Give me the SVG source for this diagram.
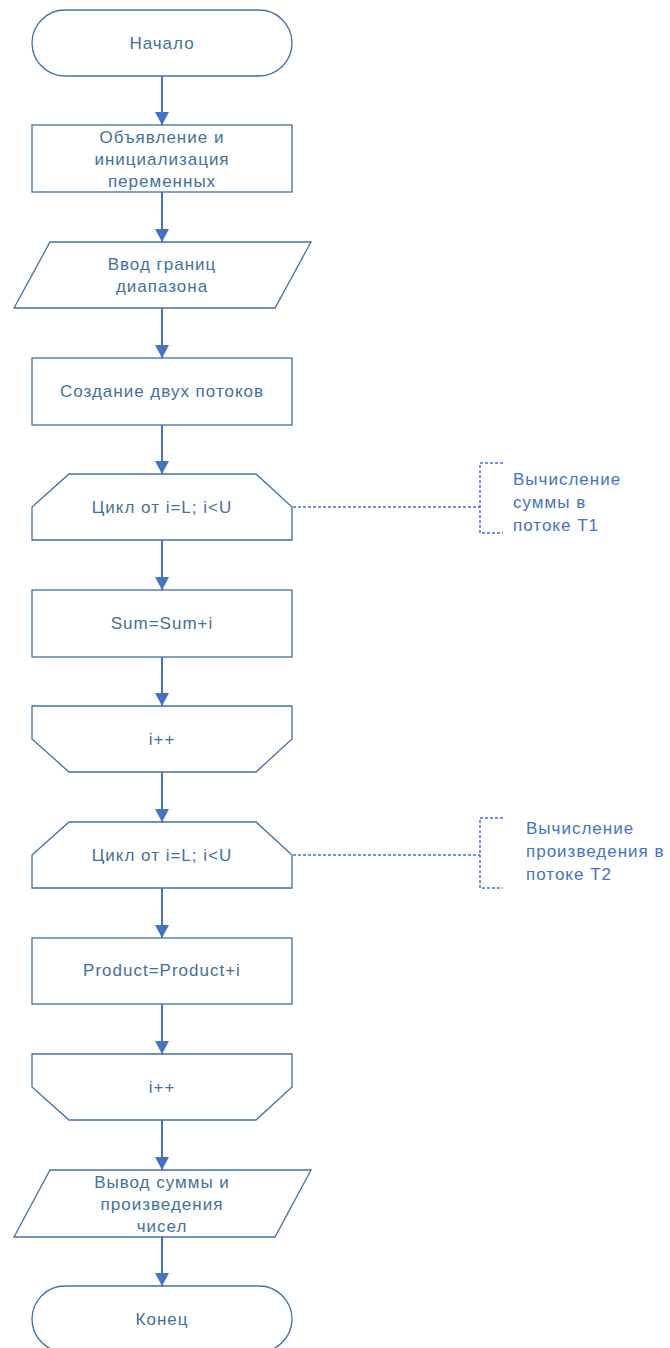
<svg xmlns="http://www.w3.org/2000/svg" width="670" height="1348" viewBox="0 0 670 1348">
<defs>
<style>
.shape{fill:#ffffff;stroke:#41719C;stroke-width:1.3}
.t{font-family:"Liberation Sans",Arial,sans-serif;font-size:17px;fill:#41719C;text-anchor:middle;letter-spacing:1px}
.a{font-family:"Liberation Sans",Arial,sans-serif;font-size:17px;fill:#4472C4;letter-spacing:1px}
.conn{stroke:#4472C4;stroke-width:2;fill:none}
.dash{stroke:#4472C4;stroke-width:1.5;fill:none;stroke-dasharray:3 2}
</style>
<marker id="arr" markerUnits="userSpaceOnUse" markerWidth="14" markerHeight="14" refX="13" refY="7" orient="auto">
<path d="M0,0 L13,7 L0,14 z" fill="#4472C4"/>
</marker>
</defs>
<rect x="0" y="0" width="670" height="1348" fill="#ffffff"/>

<g id="connectors">
<line class="conn" x1="162" y1="76" x2="162" y2="125" marker-end="url(#arr)"/>
<line class="conn" x1="162" y1="192" x2="162" y2="242" marker-end="url(#arr)"/>
<line class="conn" x1="162" y1="308" x2="162" y2="358" marker-end="url(#arr)"/>
<line class="conn" x1="162" y1="425" x2="162" y2="474" marker-end="url(#arr)"/>
<line class="conn" x1="162" y1="540" x2="162" y2="590" marker-end="url(#arr)"/>
<line class="conn" x1="162" y1="657" x2="162" y2="706" marker-end="url(#arr)"/>
<line class="conn" x1="162" y1="772" x2="162" y2="822" marker-end="url(#arr)"/>
<line class="conn" x1="162" y1="888" x2="162" y2="938" marker-end="url(#arr)"/>
<line class="conn" x1="162" y1="1004" x2="162" y2="1054" marker-end="url(#arr)"/>
<line class="conn" x1="162" y1="1120" x2="162" y2="1170" marker-end="url(#arr)"/>
<line class="conn" x1="162" y1="1237" x2="162" y2="1286" marker-end="url(#arr)"/>
<line class="dash" x1="293" y1="507" x2="480" y2="507"/>
<line class="dash" x1="293" y1="855" x2="480" y2="855"/>
</g>

<g id="start">
<rect class="shape" x="32" y="10" width="260" height="66" rx="33" ry="33"/>
<text class="t" x="162" y="49">Начало</text>
</g>

<g id="declare">
<rect class="shape" x="32" y="125" width="260" height="67"/>
<text class="t" x="162" y="143">Объявление и</text>
<text class="t" x="162" y="165">инициализация</text>
<text class="t" x="162" y="187">переменных</text>
</g>

<g id="input">
<polygon class="shape" points="50,242 311,242 275,308 14,308"/>
<text class="t" x="162" y="270">Ввод границ</text>
<text class="t" x="162" y="292">диапазона</text>
</g>

<g id="threads">
<rect class="shape" x="32" y="358" width="260" height="67"/>
<text class="t" x="162" y="397">Создание двух потоков</text>
</g>

<g id="loop1">
<polygon class="shape" points="69,474 256,474 292,507 292,540 32,540 32,507"/>
<text class="t" x="162" y="513">Цикл от i=L; i&lt;U</text>
</g>

<g id="sum">
<rect class="shape" x="32" y="590" width="260" height="67"/>
<text class="t" x="162" y="629">Sum=Sum+i</text>
</g>

<g id="loop1end">
<polygon class="shape" points="32,706 292,706 292,739 256,772 69,772 32,739"/>
<text class="t" x="162" y="745">i++</text>
</g>

<g id="loop2">
<polygon class="shape" points="69,822 256,822 292,855 292,888 32,888 32,855"/>
<text class="t" x="162" y="861">Цикл от i=L; i&lt;U</text>
</g>

<g id="product">
<rect class="shape" x="32" y="938" width="260" height="66"/>
<text class="t" x="162" y="976">Product=Product+i</text>
</g>

<g id="loop2end">
<polygon class="shape" points="32,1054 292,1054 292,1087 256,1120 69,1120 32,1087"/>
<text class="t" x="162" y="1093">i++</text>
</g>

<g id="output">
<polygon class="shape" points="50,1170 311,1170 275,1237 14,1237"/>
<text class="t" x="162" y="1188">Вывод суммы и</text>
<text class="t" x="162" y="1210">произведения</text>
<text class="t" x="162" y="1232">чисел</text>
</g>

<g id="end">
<rect class="shape" x="32" y="1286" width="260" height="66" rx="33" ry="33"/>
<text class="t" x="162" y="1325">Конец</text>
</g>

<g id="note1">
<path class="dash" d="M503,463 L480,463 L480,533 L503,533"/>
<text class="a" x="513" y="485">Вычисление</text>
<text class="a" x="513" y="508">суммы в</text>
<text class="a" x="513" y="531">потоке Т1</text>
</g>

<g id="note2">
<path class="dash" d="M503,818 L480,818 L480,888 L503,888"/>
<text class="a" x="526" y="834">Вычисление</text>
<text class="a" x="526" y="857">произведения в</text>
<text class="a" x="526" y="880">потоке Т2</text>
</g>
</svg>
